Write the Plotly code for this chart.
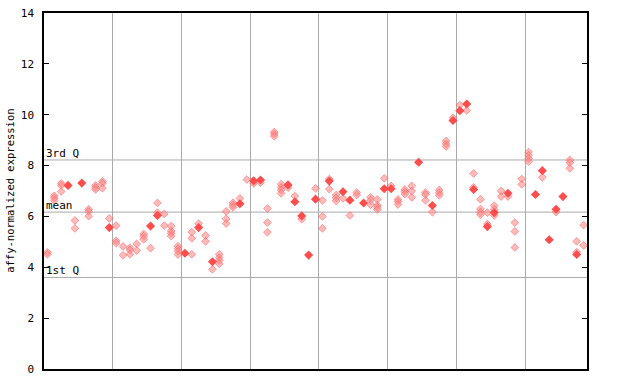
import plotly.graph_objects as go

# sample positions 0..78; values of replicate points (checkered) and solid points
replicates = [
    [4.59, 4.51], [6.81, 6.73, 6.63], [7.30, 7.22, 6.98], [], [5.84, 5.53],
    [], [6.28, 6.20, 6.01], [7.22, 7.14, 7.06], [7.38, 7.30, 7.11], [5.92],
    [5.64, 5.04, 4.95], [4.82, 4.47], [4.77, 4.68, 4.51], [4.92, 4.66], [5.31, 5.22, 5.10],
    [4.75], [6.53, 6.15], [6.10, 5.64], [5.62, 5.43, 5.34, 5.23], [4.83, 4.73, 4.63, 4.50],
    [], [5.38, 5.14, 4.51], [5.72], [5.25, 5.02], [3.92],
    [4.51, 4.38, 4.27, 4.14], [6.20, 5.90, 5.72], [6.54, 6.45, 6.36], [6.71], [7.45],
    [7.30], [7.33], [6.31, 5.76, 5.38], [9.32, 9.24, 9.15], [7.27, 7.14, 7.04, 6.91],
    [7.13], [6.80], [5.89], [], [7.10],
    [6.63, 6.00, 5.53], [7.47, 7.07], [6.84, 6.73, 6.61], [6.71], [6.04],
    [6.94, 6.84], [], [6.75, 6.64, 6.46], [6.67, 6.45, 6.36, 6.27], [7.50],
    [7.20], [6.67, 6.59, 6.47], [7.06, 6.97, 6.88], [7.20, 7.00, 6.75], [],
    [6.94, 6.86, 6.63], [6.17], [7.04, 6.93, 6.83], [8.97, 8.85, 8.75], [9.88],
    [10.38], [10.17], [7.69, 7.14], [6.67, 6.29, 6.17, 6.07], [6.15, 5.70],
    [6.42, 6.28, 6.04], [7.00, 6.78], [6.78], [5.76, 5.41, 4.78], [7.47, 7.26],
    [8.53, 8.40, 8.28, 8.16], [], [7.54], [], [6.17],
    [], [8.22, 8.11, 7.89], [5.02, 4.60], [5.66, 4.86],
]
solids = [
    [], [], [], [7.22], [],
    [7.31], [], [], [], [5.56],
    [], [], [], [], [],
    [5.62], [6.04], [], [], [],
    [4.55], [], [5.56], [], [4.22],
    [], [], [], [6.50], [],
    [7.40], [7.43], [], [], [],
    [7.24], [6.58], [6.02], [4.48], [6.68],
    [], [7.39], [], [6.97], [6.64],
    [], [6.53], [], [], [7.09],
    [7.09], [], [], [], [8.13],
    [], [6.43], [], [], [9.77],
    [10.16], [10.42], [7.06], [], [5.60],
    [6.15], [], [6.91], [], [],
    [], [6.86], [7.80], [5.08], [6.28],
    [6.78], [], [4.50], [],
]
q1_value = 3.6
mean_value = 6.17
q3_value = 8.22
y_ticks = [0, 2, 4, 6, 8, 10, 12, 14]
n_samples = len(replicates)

rx, ry, sx, sy = [], [], [], []
for i, vals in enumerate(replicates):
    for v in vals:
        rx.append(i + 0.5); ry.append(v)
for i, vals in enumerate(solids):
    for v in vals:
        sx.append(i + 0.5); sy.append(v)

font = "DejaVu Sans Mono"
fig = go.Figure()
fig.add_trace(go.Scatter(x=rx, y=ry, mode="markers",
                         marker=dict(symbol="diamond", size=6, color="rgba(255,140,140,0.6)",
                                     line=dict(width=0.6, color="rgba(255,80,80,0.8)")),
                         hoverinfo="y", showlegend=False))
fig.add_trace(go.Scatter(x=sx, y=sy, mode="markers",
                         marker=dict(symbol="diamond", size=7, color="#ff4d4d",
                                     line=dict(width=0)),
                         hoverinfo="y", showlegend=False))

for val, label in [(q3_value, "3rd Q"), (mean_value, "mean"), (q1_value, "1st Q")]:
    fig.add_shape(type="line", xref="paper", x0=0, x1=1, yref="y", y0=val, y1=val,
                  line=dict(color="#aaaaaa", width=1), layer="below")
    fig.add_annotation(x=0, xref="paper", y=val, yref="y", text=label, showarrow=False,
                       xanchor="left", yanchor="bottom", yshift=-2,
                       font=dict(family=font, size=11, color="black"))

fig.add_annotation(x=-0.063, xref="paper", y=0.5, yref="paper", text="affy-normalized expression",
                   showarrow=False, textangle=-90, xanchor="center", yanchor="middle",
                   font=dict(family=font, size=10.5, color="black"))

fig.update_layout(
    width=640, height=384,
    margin=dict(l=44, r=53, t=13, b=15, autoexpand=False),
    plot_bgcolor="white", paper_bgcolor="white",
    xaxis=dict(range=[0, n_samples], showticklabels=False, ticks="", dtick=10, tick0=0,
               showgrid=True, gridcolor="#aaaaaa", gridwidth=1, zeroline=False, automargin=False,
               showline=True, linecolor="black", linewidth=1.5, mirror=True),
    yaxis=dict(range=[0, 14], tickvals=y_ticks, ticks="inside", ticklen=5, tickcolor="black",
               showgrid=False, zeroline=False, showline=True, linecolor="black", linewidth=1.5,
               automargin=False, mirror="ticks", ticklabelstandoff=6,
               tickfont=dict(family=font, size=11, color="black")),
)
fig.write_html("out.html")
